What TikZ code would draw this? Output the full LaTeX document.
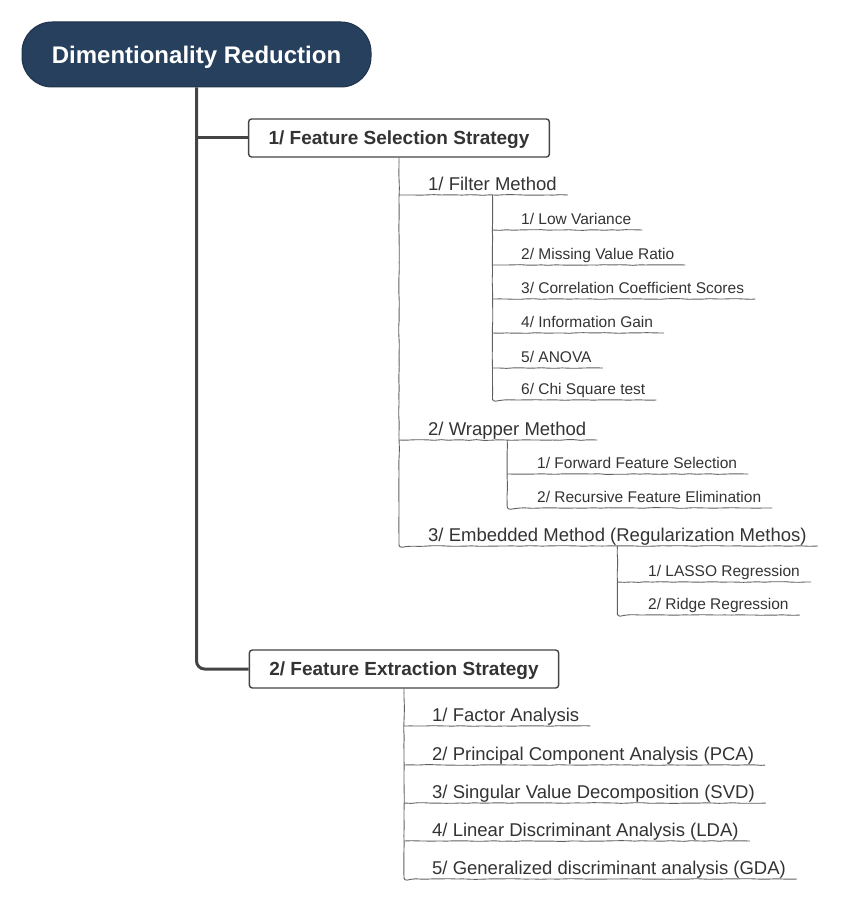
\documentclass[tikz,border=0pt]{standalone}
\usepackage{fontspec}
\setmainfont{Liberation Sans}
\usetikzlibrary{decorations.pathmorphing}
\definecolor{rootblue}{RGB}{38,64,94}
\definecolor{inkgray}{RGB}{68,68,68}
\definecolor{textgray}{RGB}{51,51,51}
\tikzset{
	sketch/.style={decorate, decoration={random steps, segment length=7pt, amplitude=0.35pt}},
	rootnode/.style={fill=rootblue, draw=rootblue!80!black, line width=1pt, rounded corners=30pt, minimum width=349pt, minimum height=65pt, text height=17.2pt, text depth=0pt, text=white, font=\fontsize{24}{28}\selectfont\bfseries},
	stratbox/.style={draw=inkgray, line width=1.4pt, fill=white, rounded corners=3pt, minimum height=38pt, inner xsep=20pt, text height=13.6pt, text depth=0pt, text=textgray, font=\fontsize{19}{23}\selectfont\bfseries},
	method/.style={anchor=south west, inner sep=0pt, text depth=4.5pt, text=textgray, font=\fontsize{18.5}{22}\selectfont},
	leaf/.style={anchor=south west, inner sep=0pt, text depth=5pt, text=textgray, font=\fontsize{15.5}{19}\selectfont},
	trunk/.style={draw=inkgray, line width=3pt},
	twig/.style={draw=inkgray!85, line width=0.9pt, sketch},
}
\pgfmathsetseed{7}

\begin{document}
\begin{tikzpicture}[x=1pt, y=-1pt]
			%%%%% START %%%%%
			\useasboundingbox (0, 0) rectangle (844, 901);
			
			\node[rootnode] (root) at (196.5, 54.5) {Dimentionality Reduction};
			
			\node[stratbox] (select) at (399, 138) {1/ Feature Selection Strategy};
			\node[stratbox] (extract) at (404, 669) {2/ Feature Extraction Strategy};
			
			\draw[trunk, rounded corners=8pt] (root.south) -- (root.south |- extract.west) -- (extract.west);
			\draw[trunk] (root.south |- select.west) -- (select.west);
			
			% selection methods
			\node[method] (filter) at (428, 195) {1/ Filter Method};
			\node[method] (wrapper) at (428, 440) {2/ Wrapper Method};
			\node[method] (embedded) at (428, 546) {3/ Embedded Method (Regularization Methos)};
			
			\draw[twig, rounded corners=3pt] (select.south) |- ([xshift=11pt]embedded.south east);
			\foreach \m in {filter, wrapper}
				\draw[twig] (select.south |- \m.south) -- ([xshift=11pt]\m.south east);
			
			% filter
			\node[leaf] (lowvar) at (521, 230) {1/ Low Variance};
			\node[leaf] (missing) at (521, 265) {2/ Missing Value Ratio};
			\node[leaf] (correl) at (521, 299) {3/ Correlation Coefficient Scores};
			\node[leaf] (infogain) at (521, 333) {4/ Information Gain};
			\node[leaf] (anova) at (521, 368) {5/ ANOVA};
			\node[leaf] (chisq) at (521, 400) {6/ Chi Square test};
			
			\draw[twig, rounded corners=3pt] (filter.south) |- ([xshift=11pt]chisq.south east);
			\foreach \l in {lowvar, missing, correl, infogain, anova}
				\draw[twig] (filter.south |- \l.south) -- ([xshift=11pt]\l.south east);
			
			% wrapper
			\node[leaf] (forward) at (537, 474) {1/ Forward Feature Selection};
			\node[leaf] (recursive) at (537, 508) {2/ Recursive Feature Elimination};
			
			\draw[twig, rounded corners=3pt] (wrapper.south) |- ([xshift=11pt]recursive.south east);
			\draw[twig] (wrapper.south |- forward.south) -- ([xshift=11pt]forward.south east);
			
			% embedded
			\node[leaf] (lasso) at (648, 582) {1/ LASSO Regression};
			\node[leaf] (ridge) at (648, 615) {2/ Ridge Regression};
			
			\draw[twig, rounded corners=3pt] (embedded.south) |- ([xshift=11pt]ridge.south east);
			\draw[twig] (embedded.south |- lasso.south) -- ([xshift=11pt]lasso.south east);
			
			% extraction methods
			\node[method] (factor) at (432, 726) {1/ Factor Analysis};
			\node[method] (pca) at (432, 765) {2/ Principal Component Analysis (PCA)};
			\node[method] (svd) at (432, 803) {3/ Singular Value Decomposition (SVD)};
			\node[method] (lda) at (432, 841) {4/ Linear Discriminant Analysis (LDA)};
			\node[method] (gda) at (432, 879) {5/ Generalized discriminant analysis (GDA)};
			
			\draw[twig, rounded corners=3pt] (extract.south) |- ([xshift=11pt]gda.south east);
			\foreach \m in {factor, pca, svd, lda}
				\draw[twig] (extract.south |- \m.south) -- ([xshift=11pt]\m.south east);
			
			%%%%% END %%%%%
\end{tikzpicture}
\end{document}
